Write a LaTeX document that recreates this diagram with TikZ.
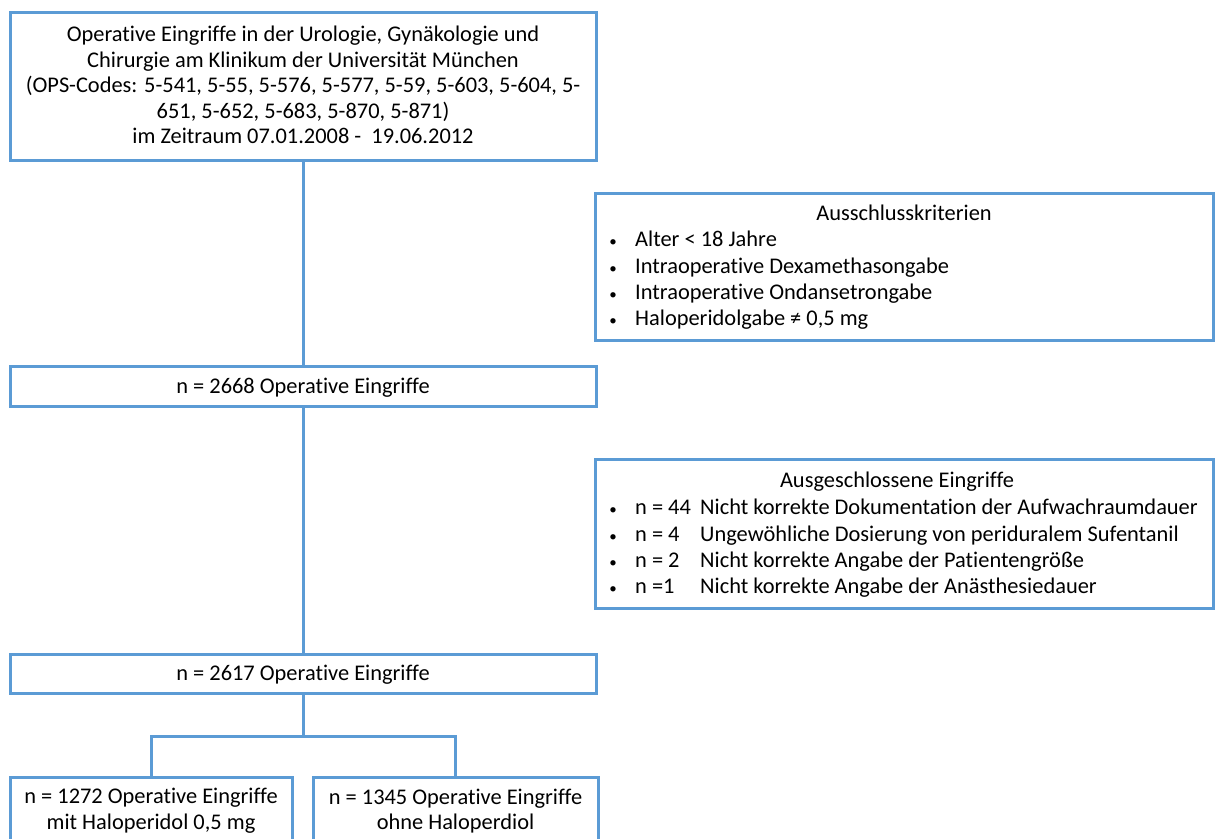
\documentclass[tikz,border=0pt]{standalone}
\usepackage{fontspec}
\setmainfont{Carlito}[Ligatures=NoCommon]
\definecolor{lineblue}{HTML}{5B9BD5}
\tikzset{
  box/.style={draw=lineblue, line width=3pt, fill=white, inner sep=0pt, outer sep=0pt, anchor=north west, rectangle},
  conn/.style={draw=lineblue, line width=3pt},
  txt/.style={font=\fontsize{22.4}{25.6}\selectfont, inner sep=0pt, text=black},
  lst/.style={txt, anchor=mid west},
  bul/.style={font=\fontsize{15}{18}\selectfont, inner sep=0pt, anchor=mid},
}
\begin{document}
\begin{tikzpicture}[x=1pt,y=-1pt]
\path[use as bounding box] (0,0) rectangle (1215,838);
\clip (0,0) rectangle (1215,838);
% boxes
\node[box, minimum width=586pt, minimum height=148pt] (top) at (10,12) {};
\node[box, minimum width=618pt, minimum height=147pt] (crit) at (595,193) {};
\node[box, minimum width=586pt, minimum height=40pt] (n2668) at (10,366) {};
\node[box, minimum width=618pt, minimum height=149pt] (excl) at (595,459) {};
\node[box, minimum width=586pt, minimum height=39pt] (n2617) at (10,654) {};
\node[box, minimum width=282pt, minimum height=90pt] (left) at (10,777) {};
\node[box, minimum width=285pt, minimum height=90pt] (right) at (313,777) {};
% connectors
\coordinate (split) at (303,736);
\draw[conn] (top.south) -- (n2668.north);
\draw[conn] (n2668.south) -- (n2617.north);
\draw[conn] (n2617.south) -- (split);
\draw[conn] (left.north) |- (split) -| (right.north);
% texts
\node[txt, align=center] (toptxt) at (303,85) {Operative Eingriffe in der Urologie, Gynäkologie und\\Chirurgie am Klinikum der Universität München\\(OPS-Codes: 5-541, 5-55, 5-576, 5-577, 5-59, 5-603, 5-604, 5-\\651, 5-652, 5-683, 5-870, 5-871)\\im Zeitraum 07.01.2008 -\ \ 19.06.2012};
\node[txt] (t2668) at ([yshift=-1.5pt]n2668.center) {n = 2668 Operative Eingriffe};
\node[txt] (t2617) at ([yshift=-1pt]n2617.center) {n = 2617 Operative Eingriffe};
\node[txt, align=center] (tleft) at (151,811) {n = 1272 Operative Eingriffe\\mit Haloperidol 0,5 mg};
\node[txt, align=center] (tright) at (455.5,811) {n = 1345 Operative Eingriffe\\ohne Haloperdiol};
% criteria list
\node[lst, anchor=mid] (ctitle) at (904,218) {Ausschlusskriterien};
\foreach \y/\t [count=\i] in {244/{Alter < 18 Jahre},271/{Intraoperative Dexamethasongabe},297/{Intraoperative Ondansetrongabe},323/{Haloperidolgabe ≠ 0,5 mg}}{
  \node[bul] (cb\i) at (613,\y) {•};
  \node[lst] (ct\i) at (635,\y) {\t};
}
% excluded list
\node[lst, anchor=mid] (etitle) at (897,485) {Ausgeschlossene Eingriffe};
\foreach \y/\n/\t [count=\i] in {512/{n = 44}/{Nicht korrekte Dokumentation der Aufwachraumdauer},539/{n = 4}/{Ungewöhliche Dosierung von periduralem Sufentanil},565/{n = 2}/{Nicht korrekte Angabe der Patientengröße},591/{n =1}/{Nicht korrekte Angabe der Anästhesiedauer}}{
  \node[bul] (eb\i) at (613,\y) {•};
  \node[lst] (en\i) at (635,\y) {\n};
  \node[lst] (et\i) at (700,\y) {\t};
}
\end{tikzpicture}
\end{document}
